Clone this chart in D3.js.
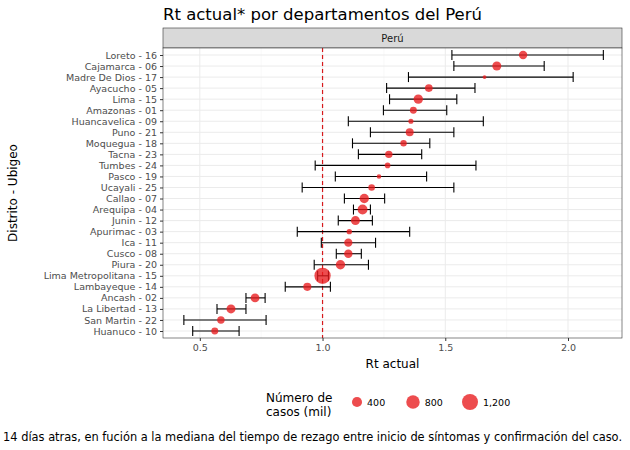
<!DOCTYPE html>
<html><head><meta charset="utf-8">
<script src="https://cdn.jsdelivr.net/npm/d3@7"></script>
<style>body{margin:0;background:#fff}text{font-family:"DejaVu Sans",sans-serif}</style>
</head><body><svg id="c" width="630" height="450"></svg>
<script>
// departamentos, top to bottom
var names = ["Loreto - 16","Cajamarca - 06","Madre De Dios - 17","Ayacucho - 05","Lima - 15","Amazonas - 01","Huancavelica - 09","Puno - 21","Moquegua - 18","Tacna - 23","Tumbes - 24","Pasco - 19","Ucayali - 25","Callao - 07","Arequipa - 04","Junin - 12","Apurimac - 03","Ica - 11","Cusco - 08","Piura - 20","Lima Metropolitana - 15","Lambayeque - 14","Ancash - 02","La Libertad - 13","San Martin - 22","Huanuco - 10"];
var rt = [1.817,1.71,1.66,1.433,1.39,1.37,1.36,1.355,1.33,1.27,1.265,1.23,1.2,1.17,1.163,1.134,1.109,1.105,1.105,1.073,1.0,0.938,0.725,0.627,0.586,0.561];
var lo = [1.527,1.535,1.35,1.261,1.273,1.248,1.105,1.195,1.122,1.146,0.97,1.052,0.917,1.089,1.126,1.064,0.897,0.995,1.056,0.966,0.98,0.848,0.688,0.57,0.435,0.471];
var hi = [2.144,1.903,2.021,1.621,1.547,1.506,1.655,1.535,1.437,1.404,1.625,1.424,1.535,1.253,1.195,1.203,1.355,1.216,1.158,1.187,1.024,1.032,0.766,0.688,0.77,0.66];
var casos = [250,300,20,200,330,150,60,220,120,180,80,40,130,330,380,300,70,240,250,330,1250,230,280,300,180,150];
var xTicks = [0.5,1.0,1.5,2.0];
var legendVals = [400,800,1200];

var svg = d3.select("#c");
var L=163,R=622,T=48,B=338;
var x = d3.scaleLinear().domain([0.35,2.22]).range([L,R]);
var y = d3.scalePoint().domain(names).range([T+7,B-7]);
var r = d3.scaleSqrt().domain([0,1300]).range([1,8.3]);

svg.append("text").attr("x",163).attr("y",20).attr("font-size",16.5).text("Rt actual* por departamentos del Perú");
svg.append("rect").attr("x",L).attr("y",28).attr("width",R-L).attr("height",T-28).attr("fill","#d9d9d9").attr("stroke","#333").attr("stroke-width",0.6);
svg.append("text").attr("x",(L+R)/2).attr("y",42).attr("text-anchor","middle").attr("font-size",10).attr("fill","#1a1a1a").text("Perú");
svg.append("rect").attr("x",L).attr("y",T).attr("width",R-L).attr("height",B-T).attr("fill","#fff");

var minor = [0.75,1.25,1.75];
svg.selectAll(".mn").data(minor).enter().append("line").attr("x1",d=>x(d)).attr("x2",d=>x(d)).attr("y1",T).attr("y2",B).attr("stroke","#f0f0f0").attr("stroke-width",0.5);
svg.selectAll(".mj").data(xTicks).enter().append("line").attr("x1",d=>x(d)).attr("x2",d=>x(d)).attr("y1",T).attr("y2",B).attr("stroke","#ebebeb").attr("stroke-width",1);
svg.selectAll(".hg").data(names).enter().append("line").attr("x1",L).attr("x2",R).attr("y1",d=>y(d)).attr("y2",d=>y(d)).attr("stroke","#ebebeb").attr("stroke-width",1);

svg.append("line").attr("x1",x(1)).attr("x2",x(1)).attr("y1",T).attr("y2",B).attr("stroke","#d7191c").attr("stroke-width",1.2).attr("stroke-dasharray","4,3");

var g = svg.append("g");
names.forEach(function(n,i){
  var yy=y(n);
  g.append("line").attr("x1",x(lo[i])).attr("x2",x(hi[i])).attr("y1",yy).attr("y2",yy).attr("stroke","#000").attr("stroke-width",1.1);
  g.append("line").attr("x1",x(lo[i])).attr("x2",x(lo[i])).attr("y1",yy-5).attr("y2",yy+5).attr("stroke","#000").attr("stroke-width",1.1);
  g.append("line").attr("x1",x(hi[i])).attr("x2",x(hi[i])).attr("y1",yy-5).attr("y2",yy+5).attr("stroke","#000").attr("stroke-width",1.1);
  g.append("circle").attr("cx",x(rt[i])).attr("cy",yy).attr("r",r(casos[i])).attr("fill","#e8191c").attr("fill-opacity",0.78);
});
svg.append("rect").attr("x",L).attr("y",T).attr("width",R-L).attr("height",B-T).attr("fill","none").attr("stroke","#333").attr("stroke-width",0.6);

var ax = svg.append("g").attr("transform","translate(0,"+B+")").call(d3.axisBottom(x).tickValues(xTicks).tickFormat(d3.format(".1f")).tickSize(3));
ax.select(".domain").remove();
ax.selectAll("text").attr("font-size",9.5).attr("fill","#4d4d4d").attr("font-family","DejaVu Sans");
ax.selectAll("line").attr("stroke","#333");
var ay = svg.append("g").attr("transform","translate("+L+",0)").call(d3.axisLeft(y).tickSize(3));
ay.select(".domain").remove();
ay.selectAll("text").attr("font-size",9.5).attr("fill","#4d4d4d").attr("font-family","DejaVu Sans");
ay.selectAll("line").attr("stroke","#333");

svg.append("text").attr("x",(L+R)/2).attr("y",368).attr("text-anchor","middle").attr("font-size",12).text("Rt actual");
svg.append("text").attr("transform","translate(17,"+(T+B)/2+") rotate(-90)").attr("text-anchor","middle").attr("font-size",12).text("Distrito - Ubigeo");

svg.append("text").attr("x",266).attr("y",402).attr("font-size",12).text("Número de");
svg.append("text").attr("x",266).attr("y",416).attr("font-size",12).text("casos (mil)");
var lx=[357,413,470];
legendVals.forEach(function(v,i){
  svg.append("circle").attr("cx",lx[i]).attr("cy",402).attr("r",r(v)).attr("fill","#e8191c").attr("fill-opacity",0.78);
  svg.append("text").attr("x",lx[i]+r(v)+5).attr("y",406).attr("font-size",9.5).text(d3.format(",")(v));
});
svg.append("text").attr("x",622).attr("y",441).attr("text-anchor","end").attr("font-size",11.4).text("14 días atras, en fución a la mediana del tiempo de rezago entre inicio de síntomas y confirmación del caso.");
</script></body></html>
